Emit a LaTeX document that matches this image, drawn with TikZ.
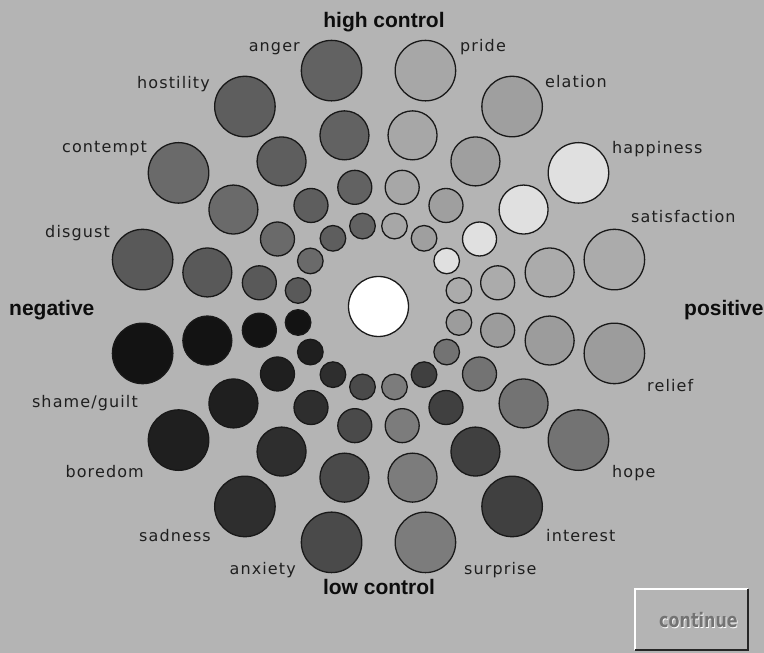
\documentclass[tikz,border=0pt]{standalone}
\usepackage{fontspec}
\setmainfont{DejaVu Sans}
\newfontfamily\emofont[LetterSpace=7]{DejaVu Sans}
\newfontfamily\axisfont{Liberation Sans}
\newfontfamily\btnfont{DejaVu Sans}
\usetikzlibrary{calc}
\definecolor{bg}{gray}{0.705}
\tikzset{
  bubble/.style={circle, draw=black!90, line width=1.3pt, inner sep=0pt, outer sep=0pt},
  emo/.style={font=\emofont\fontsize{16}{19}\selectfont, text=black!88, inner sep=0pt},
  axis/.style={font=\axisfont\bfseries\fontsize{21}{24}\selectfont, text=black!95, inner sep=0pt},
}
\begin{document}
\begin{tikzpicture}[x=1pt,y=1pt]
\fill[bg] (0,0) rectangle (764,653);
\useasboundingbox (0,0) rectangle (764,653);
\coordinate (C) at (378.5,346.5);
% spokes: index / grey level
\foreach \k/\g in {0/0.655, 1/0.625, 2/0.88, 3/0.67, 4/0.61, 5/0.45, 6/0.25, 7/0.485,
                   8/0.29, 9/0.18, 10/0.12, 11/0.075, 12/0.35, 13/0.415, 14/0.37, 15/0.385} {
  \pgfmathsetmacro\ang{78.75-22.5*\k}
  \definecolor{sc}{gray}{\g}
  \node[bubble, fill=sc, minimum size=25.6pt] (s\k r1) at ($(C)+(\ang:82)$) {};
  \node[bubble, fill=sc, minimum size=34pt]   (s\k r2) at ($(C)+(\ang:121.5)$) {};
  \node[bubble, fill=sc, minimum size=49pt]   (s\k r3) at ($(C)+(\ang:174.5)$) {};
  \node[bubble, fill=sc, minimum size=60.5pt] (s\k r4) at ($(C)+(\ang:240.5)$) {};
}
\node[bubble, fill=white, minimum size=60pt] (ctr) at (C) {};
% emotion labels (right side: left aligned)
\node[emo, anchor=base west] (lpride)  at (460,601) {pride};
\node[emo, anchor=base west] (lelat)   at (545,565) {elation};
\node[emo, anchor=base west] (lhapp)   at (612,499) {happiness};
\node[emo, anchor=base west] (lsatis)  at (631,430) {satisfaction};
\node[emo, anchor=base west] (lrelief) at (647,261) {relief};
\node[emo, anchor=base west] (lhope)   at (612,175) {hope};
\node[emo, anchor=base west] (linter)  at (546,111) {interest};
\node[emo, anchor=base west] (lsurp)   at (464,78)  {surprise};
% emotion labels (left side: right aligned)
\node[emo, anchor=base east] (langer)  at (300,601) {anger};
\node[emo, anchor=base east] (lhost)   at (210,564) {hostility};
\node[emo, anchor=base east] (lcont)   at (147,500) {contempt};
\node[emo, anchor=base east] (ldisg)   at (110,415) {disgust};
\node[emo, anchor=base east] (lshame)  at (138,245) {shame/guilt};
\node[emo, anchor=base east] (lbore)   at (144,175) {boredom};
\node[emo, anchor=base east] (lsad)    at (211,111) {sadness};
\node[emo, anchor=base east] (lanx)    at (296,78)  {anxiety};
% axis labels
\node[axis, anchor=base] (hc)  at (384,625) {high control};
\node[axis, anchor=base] (lc)  at (379,58)  {low control};
\node[axis, anchor=base west] (neg) at (9,337)   {negative};
\node[axis, anchor=base west] (pos) at (684,337) {positive};
% continue button
\node[fill=bg, minimum width=113pt, minimum height=61pt, inner sep=0pt] (btn) at (691.5,33.5) {};
\draw[white, line width=1.5pt] (btn.south west) |- (btn.north east);
\draw[black!85, line width=2pt] (btn.south west) -| (btn.north east);
\node[inner sep=0pt, text=white, font=\btnfont\bfseries\fontsize{20}{22}\selectfont, xscale=0.8, transform shape] (btnsh) at (699.2,32.3) {continue};
\node[inner sep=0pt, text=black!55, font=\btnfont\bfseries\fontsize{20}{22}\selectfont, xscale=0.8, transform shape] (btntxt) at (698.5,33) {continue};
\end{tikzpicture}
\end{document}
